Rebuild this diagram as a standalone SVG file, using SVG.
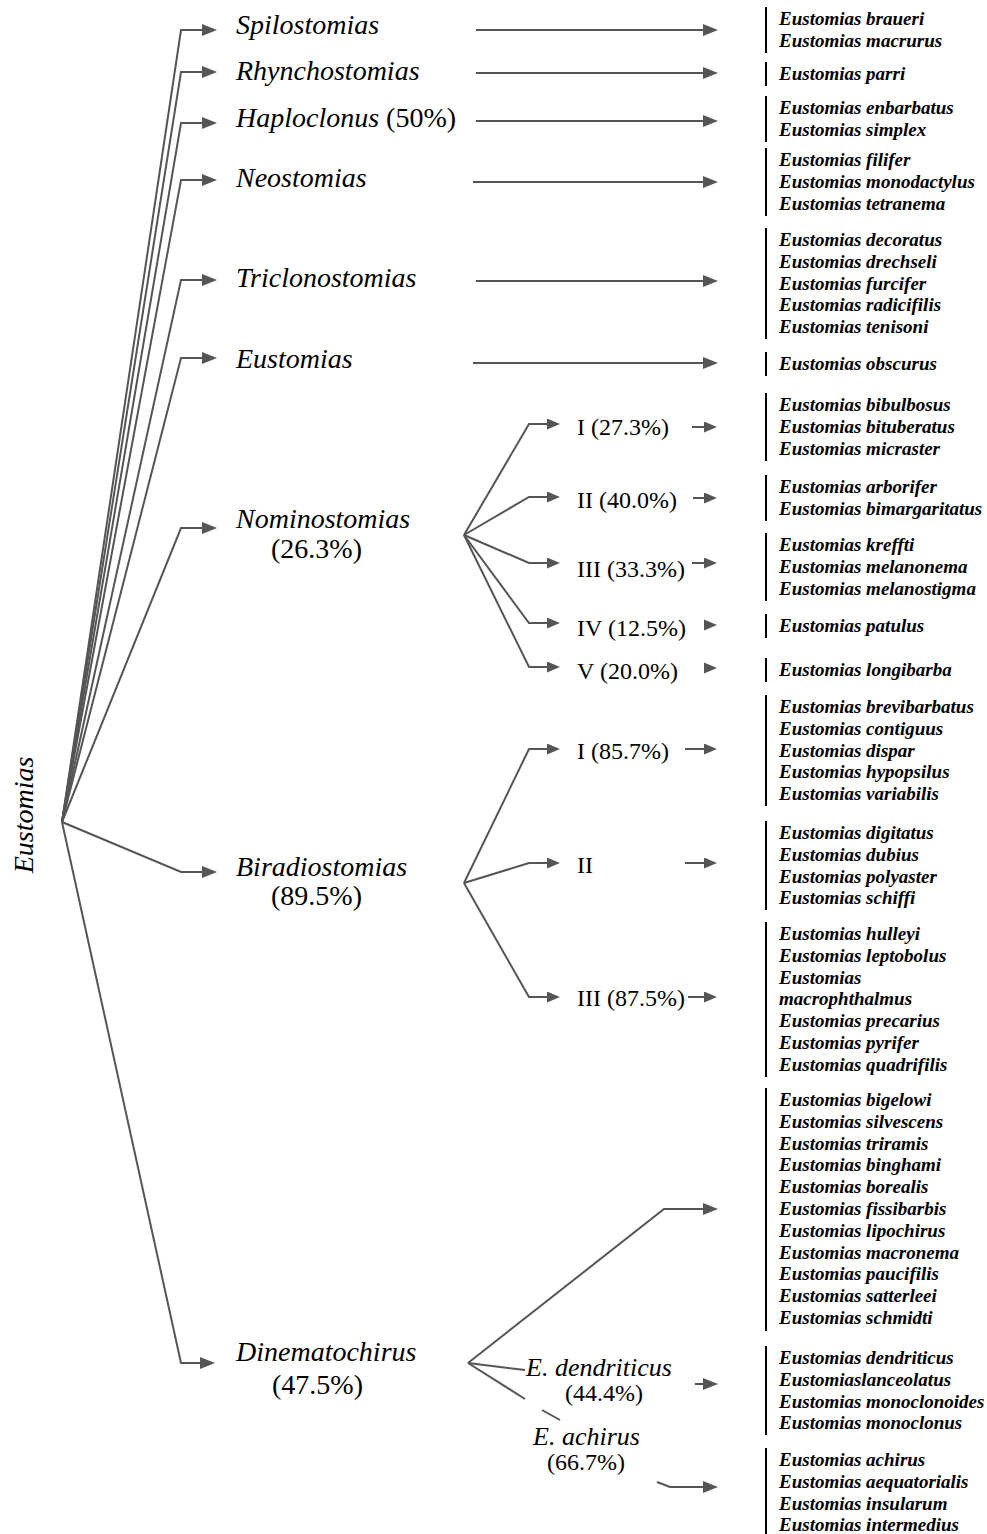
<svg xmlns="http://www.w3.org/2000/svg" width="987" height="1534" viewBox="0 0 987 1534">
<style>
.conn{fill:none;stroke:#555;stroke-width:2}
.bar{stroke:#000;stroke-width:2}
.head{fill:#555}
.lbl{font-family:"Liberation Serif","Times New Roman",serif;font-style:italic;font-size:28px;fill:#000}
.pct{font-style:normal}
.sub{font-family:"Liberation Serif","Times New Roman",serif;font-size:24px;fill:#000}
.subi{font-family:"Liberation Serif","Times New Roman",serif;font-style:italic;font-size:26px;fill:#000}
.sp{font-family:"Liberation Serif","Times New Roman",serif;font-style:italic;font-weight:bold;font-size:19px;fill:#000}
</style>
<defs>
<marker id="ah" markerUnits="userSpaceOnUse" markerWidth="15" markerHeight="12" refX="0" refY="6" orient="auto"><path d="M0,0 L15,6 L0,12 z" fill="#555"/></marker>
<marker id="ahs" markerUnits="userSpaceOnUse" markerWidth="13" markerHeight="11" refX="0" refY="5.5" orient="auto"><path d="M0,0 L13,5.5 L0,11 z" fill="#555"/></marker>
</defs>
<rect width="987" height="1534" fill="#fff"/>

<g id="connectors">
<!-- root to genera -->
<path class="conn" marker-end="url(#ah)" d="M62,822 L181,30 L202,30"/>
<path class="conn" marker-end="url(#ah)" d="M62,822 L181,72 L202,72"/>
<path class="conn" marker-end="url(#ah)" d="M62,822 L181,123 L202,123"/>
<path class="conn" marker-end="url(#ah)" d="M62,822 L181,180 L202,180"/>
<path class="conn" marker-end="url(#ah)" d="M62,822 L181,280 L202,280"/>
<path class="conn" marker-end="url(#ah)" d="M62,822 L181,358 L202,358"/>
<path class="conn" marker-end="url(#ah)" d="M62,822 L181,528 L202,528"/>
<path class="conn" marker-end="url(#ah)" d="M62,822 L181,872 L202,872"/>
<path class="conn" marker-end="url(#ah)" d="M62,822 L181,1363 L200,1363"/>
<!-- long arrows -->
<path class="conn" marker-end="url(#ah)" d="M476,30 L703,30"/>
<path class="conn" marker-end="url(#ah)" d="M476,73 L703,73"/>
<path class="conn" marker-end="url(#ah)" d="M476,121 L703,121"/>
<path class="conn" marker-end="url(#ah)" d="M473,182 L703,182"/>
<path class="conn" marker-end="url(#ah)" d="M476,281 L703,281"/>
<path class="conn" marker-end="url(#ah)" d="M473,363 L703,363"/>
<!-- Nominostomias subgroups -->
<path class="conn" marker-end="url(#ahs)" d="M464,535 L529,424 L547,424"/>
<path class="conn" marker-end="url(#ahs)" d="M464,535 L529,497 L547,497"/>
<path class="conn" marker-end="url(#ahs)" d="M464,535 L529,563 L547,563"/>
<path class="conn" marker-end="url(#ahs)" d="M464,535 L529,623 L547,623"/>
<path class="conn" marker-end="url(#ahs)" d="M464,535 L529,667 L547,667"/>
<path class="conn" marker-end="url(#ahs)" d="M692,427 L704,427"/>
<path class="conn" marker-end="url(#ahs)" d="M693,498 L704,498"/>
<path class="conn" marker-end="url(#ahs)" d="M692,563 L704,563"/>
<path class="head" d="M704,619.5 L717,625 L704,630.5 z"/>
<path class="head" d="M704,662.5 L717,668 L704,673.5 z"/>
<!-- Biradiostomias subgroups -->
<path class="conn" marker-end="url(#ahs)" d="M464,883 L529,749 L547,749"/>
<path class="conn" marker-end="url(#ahs)" d="M464,883 L529,863 L547,863"/>
<path class="conn" marker-end="url(#ahs)" d="M464,883 L529,997 L547,997"/>
<path class="conn" marker-end="url(#ahs)" d="M685,749 L704,749"/>
<path class="conn" marker-end="url(#ahs)" d="M685,863 L704,863"/>
<path class="conn" marker-end="url(#ahs)" d="M688,997 L704,997"/>
<!-- Dinematochirus subgroups -->
<path class="conn" marker-end="url(#ah)" d="M468,1363 L664,1209 L703,1209"/>
<path class="conn" d="M468,1363 L525,1370"/>
<path class="conn" d="M468,1363 L525,1399"/>
<path class="conn" d="M542,1410 L560,1420"/>
<path class="conn" marker-end="url(#ah)" d="M657,1482 L670,1487 L703,1487"/>
<path class="conn" marker-end="url(#ah)" d="M695,1384 L703,1384"/>
</g>

<g id="root"><text class="lbl" transform="translate(33,815) rotate(-90)" text-anchor="middle">Eustomias</text></g>

<g id="spilostomias"><text class="lbl" x="236" y="34">Spilostomias</text></g>
<g id="rhynchostomias"><text class="lbl" x="236" y="80">Rhynchostomias</text></g>
<g id="haploclonus"><text class="lbl" x="236" y="127">Haploclonus <tspan class="pct">(50%)</tspan></text></g>
<g id="neostomias"><text class="lbl" x="236" y="187">Neostomias</text></g>
<g id="triclonostomias"><text class="lbl" x="236" y="287">Triclonostomias</text></g>
<g id="eustomias-sg"><text class="lbl" x="236" y="368">Eustomias</text></g>
<g id="nominostomias"><text class="lbl" x="236" y="528">Nominostomias</text><text class="lbl pct" x="271" y="558">(26.3%)</text></g>
<g id="biradiostomias"><text class="lbl" x="236" y="876">Biradiostomias</text><text class="lbl pct" x="271" y="905">(89.5%)</text></g>
<g id="dinematochirus"><text class="lbl" x="236" y="1361">Dinematochirus</text><text class="lbl pct" x="272" y="1394">(47.5%)</text></g>

<g id="nom-I"><text class="sub" x="577" y="435">I (27.3%)</text></g>
<g id="nom-II"><text class="sub" x="577" y="508">II (40.0%)</text></g>
<g id="nom-III"><text class="sub" x="577" y="577">III (33.3%)</text></g>
<g id="nom-IV"><text class="sub" x="577" y="636">IV (12.5%)</text></g>
<g id="nom-V"><text class="sub" x="577" y="679">V (20.0%)</text></g>
<g id="bir-I"><text class="sub" x="577" y="759">I (85.7%)</text></g>
<g id="bir-II"><text class="sub" x="577" y="873">II</text></g>
<g id="bir-III"><text class="sub" x="577" y="1006">III (87.5%)</text></g>
<g id="e-dendriticus"><text class="subi" x="526" y="1376">E. dendriticus</text><text class="sub" x="565" y="1401">(44.4%)</text></g>
<g id="e-achirus"><text class="subi" x="533" y="1445">E. achirus</text><text class="sub" x="547" y="1470">(66.7%)</text></g>

<g id="sp1"><line class="bar" x1="766" y1="7" x2="766" y2="53"/><text class="sp" y="25"><tspan x="779">Eustomias braueri</tspan><tspan x="779" dy="21.8">Eustomias macrurus</tspan></text></g>
<g id="sp2"><line class="bar" x1="766" y1="62" x2="766" y2="86"/><text class="sp" y="80"><tspan x="779">Eustomias parri</tspan></text></g>
<g id="sp3"><line class="bar" x1="766" y1="96" x2="766" y2="142"/><text class="sp" y="114"><tspan x="779">Eustomias enbarbatus</tspan><tspan x="779" dy="21.8">Eustomias simplex</tspan></text></g>
<g id="sp4"><line class="bar" x1="766" y1="148" x2="766" y2="216"/><text class="sp" y="166"><tspan x="779">Eustomias filifer</tspan><tspan x="779" dy="21.8">Eustomias monodactylus</tspan><tspan x="779" dy="21.8">Eustomias tetranema</tspan></text></g>
<g id="sp5"><line class="bar" x1="766" y1="228" x2="766" y2="339"/><text class="sp" y="246"><tspan x="779">Eustomias decoratus</tspan><tspan x="779" dy="21.8">Eustomias drechseli</tspan><tspan x="779" dy="21.8">Eustomias furcifer</tspan><tspan x="779" dy="21.8">Eustomias radicifilis</tspan><tspan x="779" dy="21.8">Eustomias tenisoni</tspan></text></g>
<g id="sp6"><line class="bar" x1="766" y1="352" x2="766" y2="376"/><text class="sp" y="370"><tspan x="779">Eustomias obscurus</tspan></text></g>
<g id="sp7"><line class="bar" x1="766" y1="393" x2="766" y2="461"/><text class="sp" y="411"><tspan x="779">Eustomias bibulbosus</tspan><tspan x="779" dy="21.8">Eustomias bituberatus</tspan><tspan x="779" dy="21.8">Eustomias micraster</tspan></text></g>
<g id="sp8"><line class="bar" x1="766" y1="475" x2="766" y2="521"/><text class="sp" y="493"><tspan x="779">Eustomias arborifer</tspan><tspan x="779" dy="21.8">Eustomias bimargaritatus</tspan></text></g>
<g id="sp9"><line class="bar" x1="766" y1="533" x2="766" y2="601"/><text class="sp" y="551"><tspan x="779">Eustomias kreffti</tspan><tspan x="779" dy="21.8">Eustomias melanonema</tspan><tspan x="779" dy="21.8">Eustomias melanostigma</tspan></text></g>
<g id="sp10"><line class="bar" x1="766" y1="614" x2="766" y2="638"/><text class="sp" y="632"><tspan x="779">Eustomias patulus</tspan></text></g>
<g id="sp11"><line class="bar" x1="766" y1="658" x2="766" y2="682"/><text class="sp" y="676"><tspan x="779">Eustomias longibarba</tspan></text></g>
<g id="sp12"><line class="bar" x1="766" y1="695" x2="766" y2="806"/><text class="sp" y="713"><tspan x="779">Eustomias brevibarbatus</tspan><tspan x="779" dy="21.8">Eustomias contiguus</tspan><tspan x="779" dy="21.8">Eustomias dispar</tspan><tspan x="779" dy="21.8">Eustomias hypopsilus</tspan><tspan x="779" dy="21.8">Eustomias variabilis</tspan></text></g>
<g id="sp13"><line class="bar" x1="766" y1="821" x2="766" y2="910"/><text class="sp" y="839"><tspan x="779">Eustomias digitatus</tspan><tspan x="779" dy="21.8">Eustomias dubius</tspan><tspan x="779" dy="21.8">Eustomias polyaster</tspan><tspan x="779" dy="21.8">Eustomias schiffi</tspan></text></g>
<g id="sp14"><line class="bar" x1="766" y1="922" x2="766" y2="1077"/><text class="sp" y="940"><tspan x="779">Eustomias hulleyi</tspan><tspan x="779" dy="21.8">Eustomias leptobolus</tspan><tspan x="779" dy="21.8">Eustomias</tspan><tspan x="779" dy="21.8">macrophthalmus</tspan><tspan x="779" dy="21.8">Eustomias precarius</tspan><tspan x="779" dy="21.8">Eustomias pyrifer</tspan><tspan x="779" dy="21.8">Eustomias quadrifilis</tspan></text></g>
<g id="sp15"><line class="bar" x1="766" y1="1088" x2="766" y2="1331"/><text class="sp" y="1106"><tspan x="779">Eustomias bigelowi</tspan><tspan x="779" dy="21.8">Eustomias silvescens</tspan><tspan x="779" dy="21.8">Eustomias triramis</tspan><tspan x="779" dy="21.8">Eustomias binghami</tspan><tspan x="779" dy="21.8">Eustomias borealis</tspan><tspan x="779" dy="21.8">Eustomias fissibarbis</tspan><tspan x="779" dy="21.8">Eustomias lipochirus</tspan><tspan x="779" dy="21.8">Eustomias macronema</tspan><tspan x="779" dy="21.8">Eustomias paucifilis</tspan><tspan x="779" dy="21.8">Eustomias satterleei</tspan><tspan x="779" dy="21.8">Eustomias schmidti</tspan></text></g>
<g id="sp16"><line class="bar" x1="766" y1="1346" x2="766" y2="1435"/><text class="sp" y="1364"><tspan x="779">Eustomias dendriticus</tspan><tspan x="779" dy="21.8">Eustomiaslanceolatus</tspan><tspan x="779" dy="21.8">Eustomias monoclonoides</tspan><tspan x="779" dy="21.8">Eustomias monoclonus</tspan></text></g>
<g id="sp17"><line class="bar" x1="766" y1="1448" x2="766" y2="1534"/><text class="sp" y="1466"><tspan x="779">Eustomias achirus</tspan><tspan x="779" dy="21.8">Eustomias aequatorialis</tspan><tspan x="779" dy="21.8">Eustomias insularum</tspan><tspan x="779" dy="21.8">Eustomias intermedius</tspan></text></g>
</svg>
